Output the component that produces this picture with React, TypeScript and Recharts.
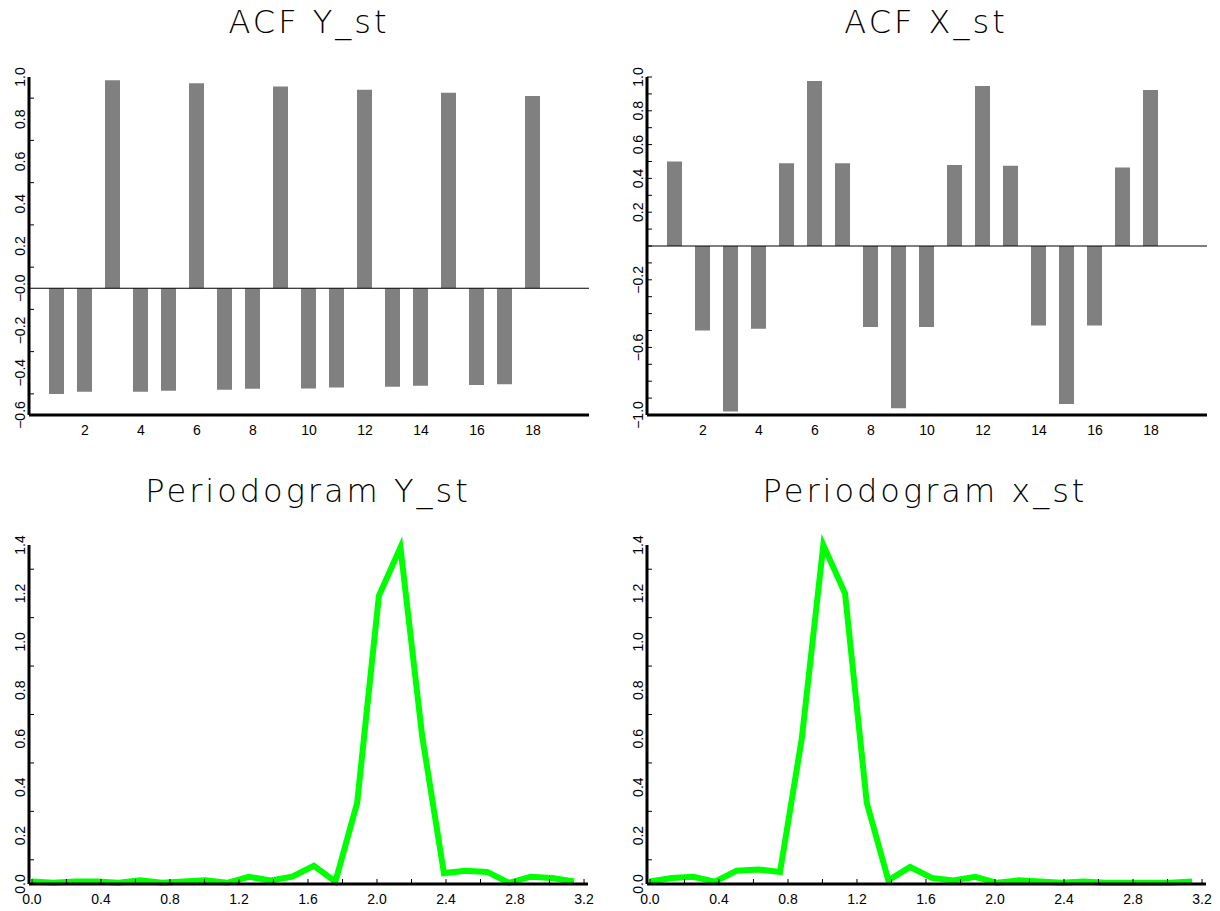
import React from 'react';
import { BarChart, Bar, LineChart, Line, XAxis, YAxis, ReferenceLine } from 'recharts';

// ACF lags and values
const lags = [1, 2, 3, 4, 5, 6, 7, 8, 9, 10, 11, 12, 13, 14, 15, 16, 17, 18];
const acfY = [-0.5, -0.49, 0.985, -0.49, -0.485, 0.97, -0.48, -0.476, 0.955, -0.475, -0.47, 0.94, -0.466, -0.462, 0.925, -0.458, -0.455, 0.91];
const acfX = [0.5, -0.5, -0.98, -0.49, 0.49, 0.976, 0.49, -0.48, -0.96, -0.48, 0.48, 0.947, 0.475, -0.47, -0.935, -0.47, 0.465, 0.923];

// periodogram frequencies and ordinates
const freqs = [0, 0.126, 0.251, 0.377, 0.503, 0.628, 0.754, 0.88, 1.005, 1.131, 1.257, 1.382, 1.508, 1.634, 1.759, 1.885, 2.011, 2.136, 2.262, 2.388, 2.513, 2.639, 2.765, 2.89, 3.016, 3.142];
const perY = [0.01, 0.005, 0.01, 0.01, 0.005, 0.015, 0.005, 0.01, 0.015, 0.005, 0.03, 0.015, 0.03, 0.075, 0.01, 0.335, 1.19, 1.39, 0.61, 0.045, 0.055, 0.05, 0.005, 0.03, 0.025, 0.01];
const perX = [0.01, 0.025, 0.03, 0.01, 0.055, 0.06, 0.05, 0.6, 1.4, 1.2, 0.335, 0.015, 0.07, 0.025, 0.015, 0.03, 0.005, 0.015, 0.01, 0.005, 0.01, 0.005, 0.005, 0.005, 0.005, 0.01];

// tick values and labels
const lagTicks = [2, 4, 6, 8, 10, 12, 14, 16, 18];
const acfYTicks = [-0.6, -0.5, -0.4, -0.3, -0.2, -0.1, 0, 0.1, 0.2, 0.3, 0.4, 0.5, 0.6, 0.7, 0.8, 0.9, 1.0];
const acfYLabels = ['−0.6', '', '−0.4', '', '−0.2', '', '−0.0', '', '0.2', '', '0.4', '', '0.6', '', '0.8', '', '1.0'];
const acfYMarks = [false, true, false, true, false, true, false, true, false, true, false, true, false, true, false, true, false];
const acfXTicks = [-1.0, -0.9, -0.8, -0.7, -0.6, -0.5, -0.4, -0.3, -0.2, -0.1, 0, 0.1, 0.2, 0.3, 0.4, 0.5, 0.6, 0.7, 0.8, 0.9, 1.0];
const acfXLabels = ['−1.0', '', '', '', '−0.6', '', '', '', '−0.2', '', '', '', '0.2', '', '0.4', '', '0.6', '', '0.8', '', '1.0'];
const freqTicks = [0, 0.2, 0.4, 0.6, 0.8, 1.0, 1.2, 1.4, 1.6, 1.8, 2.0, 2.2, 2.4, 2.6, 2.8, 3.0, 3.2];
const freqLabels = ['0.0', '', '0.4', '', '0.8', '', '1.2', '', '1.6', '', '2.0', '', '2.4', '', '2.8', '', '3.2'];
const perTicks = [0, 0.1, 0.2, 0.3, 0.4, 0.5, 0.6, 0.7, 0.8, 0.9, 1.0, 1.1, 1.2, 1.3, 1.4];
const perLabels = ['0.0', '', '0.2', '', '0.4', '', '0.6', '', '0.8', '', '1.0', '', '1.2', '', '1.4'];
const perMarks = [false, true, false, true, false, true, false, true, false, true, false, true, false, true, false];

const acfYData = lags.map((lag, i) => ({ lag, v: acfY[i] }));
const acfXData = lags.map((lag, i) => ({ lag, v: acfX[i] }));
const perYData = freqs.map((f, i) => ({ f, v: perY[i] }));
const perXData = freqs.map((f, i) => ({ f, v: perX[i] }));

const FONT = '"Liberation Sans", Arial, sans-serif';
const axisLine = { stroke: '#000', strokeWidth: 3 };

const yTick = (ticks: number[], labels: string[], marks: boolean[] | null) => (props: any) => {
  const { x, y, payload } = props;
  const i = ticks.findIndex((t) => Math.abs(t - payload.value) < 1e-6);
  const label = i >= 0 ? labels[i] : '';
  const mark = marks ? (i >= 0 && marks[i]) : true;
  return (
    <g>
      {mark && <line x1={x} y1={y} x2={x + 5} y2={y} stroke="#000" strokeWidth={1} />}
      {label && (
        <text x={x - 4} y={y} transform={`rotate(-90, ${x - 4}, ${y})`} textAnchor="middle"
          fontSize={14} fontFamily={FONT} fill="#000">{label}</text>
      )}
    </g>
  );
};

const xTick = (ticks: number[], labels: string[], marks: boolean) => (props: any) => {
  const { x, y, payload } = props;
  const i = ticks.findIndex((t) => Math.abs(t - payload.value) < 1e-6);
  const label = i >= 0 ? labels[i] : '';
  return (
    <g>
      {marks && <line x1={x} y1={y} x2={x} y2={y - 5} stroke="#000" strokeWidth={1} />}
      {label && (
        <text x={x} y={y + 20} textAnchor="middle" fontSize={14} fontFamily={FONT} fill="#000">{label}</text>
      )}
    </g>
  );
};

const titleStyle = { fontFamily: '"DejaVu Sans", sans-serif', fontWeight: 200, fontSize: 32, letterSpacing: 3 };

export default function App() {
  return (
    <div style={{ position: 'absolute', left: 0, top: 0, width: 1220, height: 911, background: '#fff' }}>
      <div style={{ position: 'absolute', left: 0, top: 0 }}>
        <BarChart width={600} height={450} data={acfYData} margin={{ top: 77, right: 11, bottom: 0, left: 0 }}>
          <XAxis dataKey="lag" type="number" domain={[0, 20]} ticks={lagTicks} interval={0} height={35}
            axisLine={axisLine} tickLine={false} tickSize={0} tickMargin={0} tick={xTick(lagTicks, lagTicks.map(String), false)} />
          <YAxis type="number" domain={[-0.6, 1.0]} ticks={acfYTicks} interval={0} width={29}
            axisLine={axisLine} tickLine={false} tickSize={0} tickMargin={0} tick={yTick(acfYTicks, acfYLabels, acfYMarks)} />
          <ReferenceLine y={0} stroke="#000" strokeWidth={1} />
          <Bar dataKey="v" fill="#808080" barSize={15} isAnimationActive={false} />
        </BarChart>
      </div>
      <div style={{ position: 'absolute', left: 610, top: 0 }}>
        <BarChart width={610} height={450} data={acfXData} margin={{ top: 77, right: 13, bottom: 0, left: 0 }}>
          <XAxis dataKey="lag" type="number" domain={[0, 20]} ticks={lagTicks} interval={0} height={35}
            axisLine={axisLine} tickLine={false} tickSize={0} tickMargin={0} tick={xTick(lagTicks, lagTicks.map(String), false)} />
          <YAxis type="number" domain={[-1, 1]} ticks={acfXTicks} interval={0} width={37}
            axisLine={axisLine} tickLine={false} tickSize={0} tickMargin={0} tick={yTick(acfXTicks, acfXLabels, null)} />
          <ReferenceLine y={0} stroke="#000" strokeWidth={1} />
          <Bar dataKey="v" fill="#808080" barSize={15} isAnimationActive={false} />
        </BarChart>
      </div>
      <div style={{ position: 'absolute', left: 0, top: 470 }}>
        <LineChart width={600} height={441} data={perYData} margin={{ top: 75, right: 12, bottom: 0, left: 0 }}>
          <XAxis dataKey="f" type="number" domain={[-0.017, 3.223]} ticks={freqTicks} interval={0} height={27}
            axisLine={axisLine} tickLine={false} tickSize={0} tickMargin={0} tick={xTick(freqTicks, freqLabels, true)} />
          <YAxis type="number" domain={[0, 1.4]} ticks={perTicks} interval={0} width={29}
            axisLine={axisLine} tickLine={false} tickSize={0} tickMargin={0} tick={yTick(perTicks, perLabels, perMarks)} />
          <Line dataKey="v" type="linear" stroke="#00ff00" strokeWidth={6} dot={false} isAnimationActive={false} />
        </LineChart>
      </div>
      <div style={{ position: 'absolute', left: 610, top: 470 }}>
        <LineChart width={610} height={441} data={perXData} margin={{ top: 75, right: 14, bottom: 0, left: 0 }}>
          <XAxis dataKey="f" type="number" domain={[-0.017, 3.223]} ticks={freqTicks} interval={0} height={27}
            axisLine={axisLine} tickLine={false} tickSize={0} tickMargin={0} tick={xTick(freqTicks, freqLabels, true)} />
          <YAxis type="number" domain={[0, 1.4]} ticks={perTicks} interval={0} width={37}
            axisLine={axisLine} tickLine={false} tickSize={0} tickMargin={0} tick={yTick(perTicks, perLabels, perMarks)} />
          <Line dataKey="v" type="linear" stroke="#00ff00" strokeWidth={6} dot={false} isAnimationActive={false} />
        </LineChart>
      </div>
      <svg width={1220} height={911} style={{ position: 'absolute', left: 0, top: 0, pointerEvents: 'none' }}>
        <text x={309} y={33} textAnchor="middle" style={titleStyle}>ACF Y_st</text>
        <text x={926} y={33} textAnchor="middle" style={titleStyle}>ACF X_st</text>
        <text x={308} y={502} textAnchor="middle" style={titleStyle}>Periodogram Y_st</text>
        <text x={925} y={502} textAnchor="middle" style={titleStyle}>Periodogram x_st</text>
      </svg>
    </div>
  );
}
